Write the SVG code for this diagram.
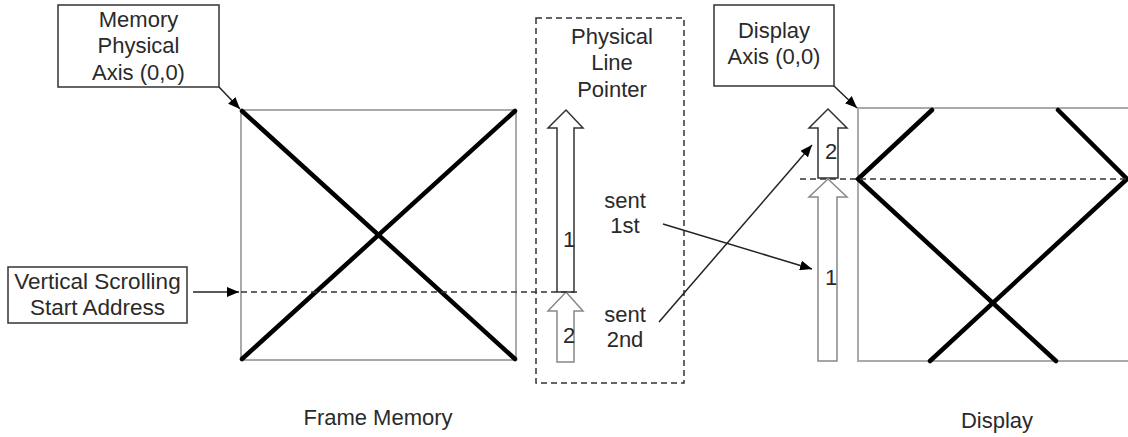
<svg xmlns="http://www.w3.org/2000/svg" width="1128" height="437" viewBox="0 0 1128 437">
<defs>
<style>
text{font-family:"Liberation Sans",Arial,sans-serif;font-size:22px;fill:#2a2a2a;text-anchor:middle}
.box{fill:#fff;stroke:#333;stroke-width:1.5}
.frame{fill:none;stroke:#aaa;stroke-width:2}
.x{fill:none;stroke:#000;stroke-width:4.5;stroke-linecap:round}
.dash{fill:none;stroke:#333;stroke-width:1.5;stroke-dasharray:6 4}
.conn{fill:none;stroke:#222;stroke-width:1.5}
.blk{fill:#fff;stroke:#333;stroke-width:1.5}
.blk2{fill:#fff;stroke:#888;stroke-width:1.5}
</style>
<marker id="ah" viewBox="0 0 12 10" refX="12" refY="5" markerWidth="12" markerHeight="10" markerUnits="userSpaceOnUse" orient="auto">
<path d="M0,0 L12,5 L0,10 Z" fill="#000"/>
</marker>
</defs>

<g id="frame-memory">
<rect class="frame" x="241" y="110" width="275" height="250"/>
<line class="x" x1="242" y1="111" x2="515" y2="359"/>
<line class="x" x1="242" y1="359" x2="515" y2="111"/>
<text x="378" y="425">Frame Memory</text>
</g>

<g id="display">
<polyline class="frame" points="1130,108 858,108 858,361 1130,361"/>
<polyline class="x" points="932,110 858,179 1056,361"/>
<polyline class="x" points="1058,110 1127,179 930,361"/>
<text x="997" y="428">Display</text>
</g>

<g id="memory-axis-label">
<rect class="box" x="58" y="5" width="161" height="82"/>
<text x="138.5" y="27">Memory</text>
<text x="138.5" y="53">Physical</text>
<text x="138.5" y="80">Axis (0,0)</text>
</g>

<g id="vscroll-label">
<rect class="box" x="8" y="267" width="179" height="56"/>
<text x="97.5" y="289" style="font-size:22.5px">Vertical Scrolling</text>
<text x="97.5" y="315" style="font-size:22.5px">Start Address</text>
</g>

<g id="display-axis-label">
<rect class="box" x="714" y="5" width="120" height="81"/>
<text x="774" y="38">Display</text>
<text x="774" y="64">Axis (0,0)</text>
</g>

<g id="pointer-box">
<rect class="dash" x="536" y="18" width="148" height="365"/>
<text x="612" y="44">Physical</text>
<text x="612" y="70">Line</text>
<text x="612" y="97">Pointer</text>
<text x="625" y="208">sent</text>
<text x="625" y="233">1st</text>
<text x="625" y="322">sent</text>
<text x="625" y="347">2nd</text>
</g>

<g id="mem-arrow-1">
<polygon class="blk" points="566,110 583,128 574,128 574,292 557,292 557,128 548,128"/>
<text x="569" y="247">1</text>
</g>
<g id="mem-arrow-2">
<polygon class="blk2" points="566,292 583,311 574,311 574,362 557,362 557,311 548,311"/>
<text x="569" y="343">2</text>
</g>
<g id="disp-arrow-2">
<polygon class="blk" points="828,109 847,128 838,128 838,178 818,178 818,128 809,128"/>
<text x="831" y="159">2</text>
</g>
<g id="disp-arrow-1">
<polygon class="blk2" points="828,179 847,197 837,197 837,361 818,361 818,197 809,197"/>
<text x="831" y="285">1</text>
</g>

<g id="connectors">
<line class="dash" x1="241" y1="292" x2="580" y2="292"/>
<line class="dash" x1="800" y1="179" x2="1128" y2="179"/>
<line class="conn" x1="219" y1="87" x2="240" y2="109" marker-end="url(#ah)"/>
<line class="conn" x1="193" y1="292" x2="239" y2="292" marker-end="url(#ah)"/>
<line class="conn" x1="834" y1="86" x2="857" y2="108" marker-end="url(#ah)"/>
<line class="conn" x1="663" y1="224" x2="812" y2="269" marker-end="url(#ah)"/>
<line class="conn" x1="659" y1="322" x2="812" y2="145" marker-end="url(#ah)"/>
</g>
</svg>
